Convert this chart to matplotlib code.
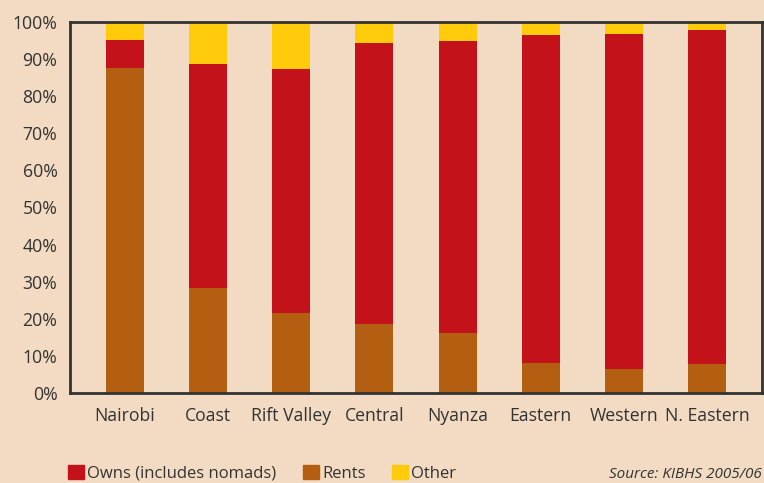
import numpy as np
import matplotlib.pyplot as plt
from matplotlib.patches import Patch

plt.rcParams['font.family'] = ['Open Sans', 'DejaVu Sans']

regions = ['Nairobi', 'Coast', 'Rift Valley', 'Central', 'Nyanza',
           'Eastern', 'Western', 'N. Eastern']
rents = [87.6, 28.2, 21.7, 18.5, 16.1, 8.0, 6.6, 7.7]
owns = [7.5, 60.5, 65.6, 75.8, 78.8, 88.5, 90.2, 90.1]
other = [4.9, 11.3, 12.7, 5.7, 5.1, 3.5, 3.2, 2.2]
yticks = np.arange(0, 101, 10)

bg = '#F2DBC2'
c_owns = '#C4121A'
c_rents = '#B35E10'
c_other = '#FFCB0A'
txt = '#333333'

fig = plt.figure(figsize=(7.64, 4.83), dpi=100, facecolor=bg)
ax = fig.add_axes([0.0916, 0.1863, 0.9058, 0.7682], facecolor=bg)

x = np.arange(len(regions))
w = 0.458
r = np.array(rents)
o = np.array(owns)
ax.bar(x, r, w, color=c_rents, zorder=2)
ax.bar(x, o, w, bottom=r, color=c_owns, zorder=2)
ax.bar(x, other, w, bottom=r + o, color=c_other, zorder=2)

ax.set_xlim(-0.663, len(regions) - 1 + 0.663)
ax.set_ylim(0, 100)
ax.set_yticks(yticks)
ax.set_yticklabels([f'{v}%' for v in yticks])
ax.set_xticks(x)
ax.set_xticklabels(regions)
ax.tick_params(length=0, labelsize=12.7, colors=txt)
ax.tick_params(axis='y', pad=9)
ax.tick_params(axis='x', pad=10)
for s in ax.spines.values():
    s.set_color(txt)
    s.set_linewidth(2)
    s.set_zorder(3)

handles = [Patch(color=c_owns, label='Owns (includes nomads)'),
           Patch(color=c_rents, label='Rents'),
           Patch(color=c_other, label='Other')]
leg = fig.legend(handles=handles, loc='center left', bbox_to_anchor=(0.089, 0.02),
                 ncol=3, frameon=False, fontsize=12, handlelength=0.95,
                 handleheight=0.95, handletextpad=0.2, columnspacing=1.6,
                 borderpad=0, borderaxespad=0, labelcolor=txt)

fig.text(0.997, 0.003, 'Source: KIBHS 2005/06', ha='right', va='bottom',
         fontsize=11, style='italic', color=txt)

fig.savefig('out.png', dpi=100, facecolor=bg)
